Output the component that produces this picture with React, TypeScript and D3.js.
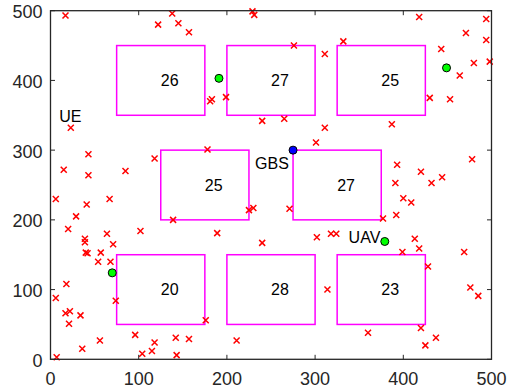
import React from "react";
import * as d3 from "d3";

const ueX = [17,122,138,145,157,23,229,231,276,311,181,183,199,240,265,311,332,418,494,471,494,443,498,480,464,430,453,387,43,118,15,43,85,6,67,41,29,139,20,64,102,39,39,71,40,42,57,54,68,18,6,74,17,22,21,34,56,36,7,96,118,104,115,142,157,143,240,176,211,314,301,178,225,230,271,189,302,318,324,478,393,420,444,432,391,400,409,392,377,413,418,399,469,428,476,485,360,420,437,425];
const ueY = [493,480,496,482,469,332,499,494,450,438,370,373,376,342,345,332,456,491,488,468,458,445,427,425,407,375,373,337,294,288,272,264,270,230,230,222,205,200,187,180,184,173,168,165,153,152,153,140,140,108,88,84,66,69,51,63,27,15,3,35,24,8,12,31,29,6,167,56,27,100,311,301,214,217,216,181,175,180,180,287,279,269,261,253,253,231,225,207,202,173,159,154,154,133,103,91,38,45,31,20];

const bldX0 = [75, 200, 325, 125, 275, 75, 200, 325];
const bldY0 = [350, 350, 350, 200, 200, 50, 50, 50];
const bldW = 100;
const bldH = 100;
const bldLabel = ["26", "27", "25", "25", "27", "20", "28", "23"];

const uavX = [191, 449, 70, 379];
const uavY = [403, 418, 124, 169];
const gbsX = [275];
const gbsY = [300];

const textLabels = ["UE", "GBS", "UAV"];
const textX = [10, 232, 338];
const textY = [348, 281, 174];

const ticks = [0, 100, 200, 300, 400, 500];

export default function App() {
  const W = 512, H = 390;
  const x = d3.scaleLinear().domain([0, 500]).range([50.5, 491.5]);
  const y = d3.scaleLinear().domain([0, 500]).range([359.3, 10.7]);
  const font = "'Liberation Sans', Arial, Helvetica, sans-serif";
  const axisColor = "#262626";
  const L = x(0), R = x(500), T = y(500), B = y(0);
  const tl = 4.5;
  const s = 3;
  return (
    <svg width={W} height={H} style={{ position: "absolute", left: 0, top: 0, background: "#fff" }}>
      <rect x={0} y={0} width={W} height={H} fill="#fff" />
      {bldX0.map((bx, i) => (
        <g key={"b" + i}>
          <rect x={x(bx)} y={y(bldY0[i] + bldH)} width={x(bx + bldW) - x(bx)} height={y(bldY0[i]) - y(bldY0[i] + bldH)}
            fill="none" stroke="#ff00ff" strokeWidth={1.5} />
          <text x={x(bx + bldW / 2)} y={y(bldY0[i] + bldH / 2)} dominantBaseline="central" fontFamily={font} fontSize={16} fill="#000">{bldLabel[i]}</text>
        </g>
      ))}
      {ueX.map((ux, i) => {
        const cx = x(ux), cy = y(ueY[i]);
        return <path key={"u" + i} d={`M${cx - s},${cy - s}L${cx + s},${cy + s}M${cx - s},${cy + s}L${cx + s},${cy - s}`} stroke="#ff0000" strokeWidth={1.5} fill="none" />;
      })}
      {uavX.map((ux, i) => (
        <circle key={"v" + i} cx={x(ux)} cy={y(uavY[i])} r={4} fill="#00ff00" stroke="#000" strokeWidth={1} />
      ))}
      {gbsX.map((gx, i) => (
        <circle key={"g" + i} cx={x(gx)} cy={y(gbsY[i])} r={4} fill="#0000ff" stroke="#000" strokeWidth={1} />
      ))}
      {textLabels.map((t, i) => (
        <text key={"t" + i} x={x(textX[i])} y={y(textY[i])} dominantBaseline="central" fontFamily={font} fontSize={16} fill="#000">{t}</text>
      ))}
      <rect x={L} y={T} width={R - L} height={B - T} fill="none" stroke={axisColor} strokeWidth={1.3} />
      {ticks.map((t) => (
        <g key={"xt" + t}>
          <line x1={x(t)} x2={x(t)} y1={B} y2={B - tl} stroke={axisColor} strokeWidth={1} />
          <line x1={x(t)} x2={x(t)} y1={T} y2={T + tl} stroke={axisColor} strokeWidth={1} />
          <text x={x(t)} y={B + 20} textAnchor="middle" dominantBaseline="central" fontFamily={font} fontSize={18} fill={axisColor}>{t}</text>
        </g>
      ))}
      {ticks.map((t) => (
        <g key={"yt" + t}>
          <line x1={L} x2={L + tl} y1={y(t)} y2={y(t)} stroke={axisColor} strokeWidth={1} />
          <line x1={R} x2={R - tl} y1={y(t)} y2={y(t)} stroke={axisColor} strokeWidth={1} />
          <text x={L - 8} y={y(t) + 1.5} textAnchor="end" dominantBaseline="central" fontFamily={font} fontSize={18} fill={axisColor}>{t}</text>
        </g>
      ))}
    </svg>
  );
}
